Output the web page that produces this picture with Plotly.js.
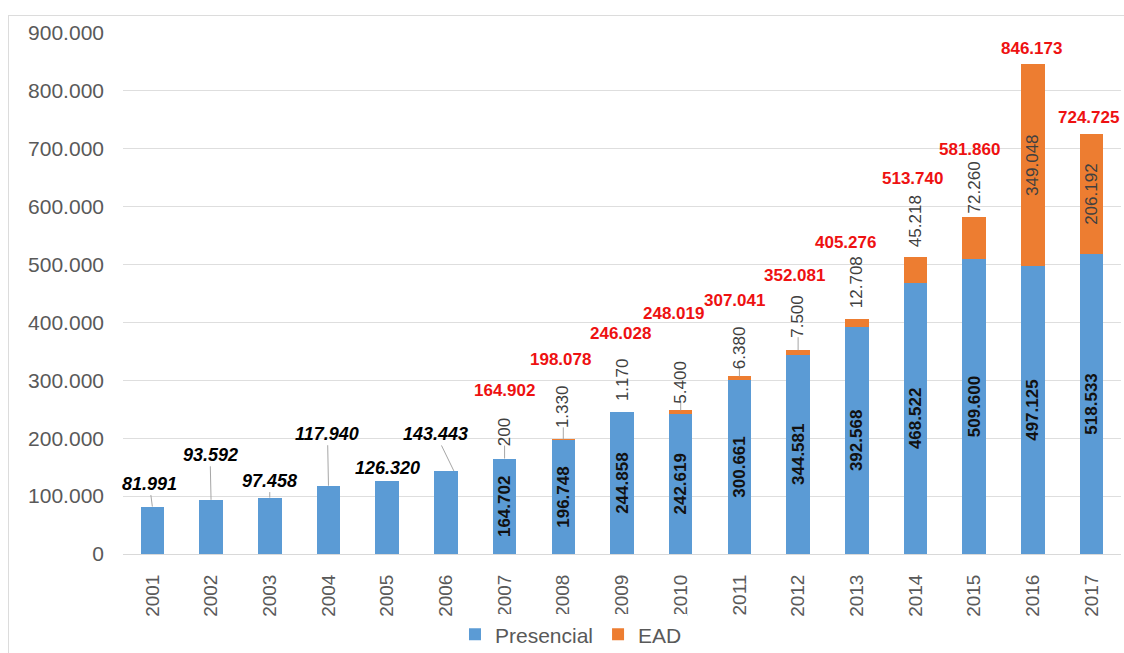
<!DOCTYPE html>
<html>
<head>
<meta charset="utf-8">
<script src="https://cdn.plot.ly/plotly-3.0.1.min.js"></script>
<style>
  html, body { margin: 0; padding: 0; background: #ffffff; }
  #chart { width: 1124px; height: 653px; position: relative; }
  #frame { position: absolute; left: 8px; top: 15px; width: 1140px; height: 660px;
           border-left: 1px solid #dcdcdc; border-top: 1px solid #dcdcdc; pointer-events: none; z-index: 10; }
</style>
</head>
<body>
<div id="frame"></div>
<div id="chart"></div>
<script>
// ---- data ----
const years = ['2001','2002','2003','2004','2005','2006','2007','2008','2009','2010','2011','2012','2013','2014','2015','2016','2017'];
const presencial = [81991, 93592, 97458, 117940, 126320, 143443, 164702, 196748, 244858, 242619, 300661, 344581, 392568, 468522, 509600, 497125, 518533];
const ead = [null, null, null, null, null, null, 200, 1330, 1170, 5400, 6380, 7500, 12708, 45218, 72260, 349048, 206192];
const totals = [81991, 93592, 97458, 117940, 126320, 143443, 164902, 198078, 246028, 248019, 307041, 352081, 405276, 513740, 581860, 846173, 724725];
const yTicks = [0, 100000, 200000, 300000, 400000, 500000, 600000, 700000, 800000, 900000];

// ---- label placement (pixels, style only) ----
// 2001-2006 total labels: [ax, ay, xshift, leader]
const earlyPlace = [[-3,-23,0,true],[-1,-45,0,true],[0,-17,0,true],[-1,-52,0,true],[2,-13,0,false],[-18,-37,8,true]];
// EAD labels above bars (2007-2015): gap in px, leader line?
const eadGap = {'2007':13,'2008':12,'2009':11,'2010':8,'2011':8,'2012':13,'2013':12,'2014':10,'2015':5};
const eadLeader = {'2007':true,'2008':true,'2010':true,'2011':true,'2012':true};
// red total labels (2007-2017): [xshift, yshift]
const redPlace = {'2007':[0,68],'2008':[-3,80],'2009':[-2,78],'2010':[-7,97],'2011':[-5,76],'2012':[-4,75],
                  '2013':[-11,77],'2014':[-3,78],'2015':[-5,68],'2016':[-1,16],'2017':[-3,17]};

const fmt = v => String(v).replace(/\B(?=(\d{3})+(?!\d))/g, '.');
const ARIAL = 'Liberation Sans, Arial, sans-serif';

// pick a narrow face if one is installed, otherwise Arial-metric at a smaller size
function hasFont(name) {
  const c = document.createElement('canvas').getContext('2d');
  c.font = '40px monospace';
  const a = c.measureText('164.702 Presencial').width;
  c.font = '40px "' + name + '", monospace';
  const b = c.measureText('164.702 Presencial').width;
  return Math.abs(a - b) > 0.5;
}
let NARROW = ARIAL, inSize = 17, eadSize = 17;
if (hasFont('Liberation Sans Narrow')) { NARROW = '"Liberation Sans Narrow", ' + ARIAL; inSize = 20; eadSize = 20; }
else if (hasFont('Arial Narrow')) { NARROW = '"Arial Narrow", ' + ARIAL; inSize = 20; eadSize = 20; }

const presText = presencial.map((v, i) => ead[i] === null ? '' : fmt(v));
const eadText = ead.map(v => (v !== null && v > 100000) ? fmt(v) : '');

const traces = [
  {
    type: 'bar', name: 'Presencial', x: years, y: presencial,
    marker: { color: '#5B9BD5' },
    text: presText, textposition: 'inside', insidetextanchor: 'middle', textangle: -90,
    constraintext: 'none',
    textfont: { family: NARROW, size: inSize, color: '#111111', weight: 'bold' },
    hoverinfo: 'skip'
  },
  {
    type: 'bar', name: 'EAD', x: years, y: ead,
    marker: { color: '#ED7D31' },
    text: eadText, textposition: 'inside', insidetextanchor: 'middle', textangle: -90,
    constraintext: 'none',
    textfont: { family: NARROW, size: eadSize, color: '#404040' },
    hoverinfo: 'skip'
  }
];

const annotations = [];
const shapes = [];

years.forEach((yr, i) => {
  if (ead[i] === null) {
    const p = earlyPlace[i];
    annotations.push({
      x: i, y: totals[i], xref: 'x', yref: 'y', text: '<b><i>' + fmt(totals[i]) + '</i></b>',
      showarrow: p[3], arrowhead: 0, arrowwidth: 1, arrowcolor: '#a6a6a6',
      ax: p[0], ay: p[1], xshift: p[2],
      yshift: p[3] ? 0 : -p[1],
      font: { family: ARIAL, size: 18, color: '#000000' }
    });
  } else {
    const rp = redPlace[yr];
    annotations.push({
      x: i, y: totals[i], xref: 'x', yref: 'y', text: '<b>' + fmt(totals[i]) + '</b>',
      showarrow: false, xanchor: 'center', yanchor: 'middle', xshift: rp[0], yshift: rp[1],
      font: { family: ARIAL, size: 17, color: '#ee1111' }
    });
    if (eadText[i] === '') {
      const g = eadGap[yr];
      annotations.push({
        x: i, y: totals[i], xref: 'x', yref: 'y', text: fmt(ead[i]),
        showarrow: false, textangle: -90, xanchor: 'center', yanchor: 'bottom', yshift: g - 2,
        borderpad: 0,
        font: { family: NARROW, size: eadSize, color: '#404040' }
      });
      if (eadLeader[yr]) {
        shapes.push({
          type: 'line', xref: 'x', yref: 'y', x0: i, x1: i,
          ysizemode: 'pixel', yanchor: totals[i], y0: 0, y1: g,
          line: { color: '#a6a6a6', width: 1 }
        });
      }
    }
  }
});

const layout = {
  width: 1124, height: 653,
  margin: { l: 123, r: 3, t: 33, b: 99, pad: 0 },
  paper_bgcolor: '#ffffff', plot_bgcolor: '#ffffff',
  barmode: 'stack', bargap: 0.6,
  separators: ',.',
  showlegend: true,
  legend: { orientation: 'h', traceorder: 'normal', xref: 'container', yref: 'container',
            x: 0.508, xanchor: 'center', y: 0.028, yanchor: 'middle',
            font: { family: ARIAL, size: 21, color: '#595959' }, itemwidth: 30, tracegroupgap: 0 },
  xaxis: {
    type: 'category', range: [-0.5, years.length - 0.5], tickangle: -90, showgrid: false, zeroline: false,
    showline: true, linecolor: '#d9d9d9', linewidth: 1, ticks: '', automargin: false,
    tickfont: { family: ARIAL, size: 19, color: '#595959' },
    ticklabelstandoff: 12
  },
  yaxis: {
    range: [0, 900000], tickvals: yTicks, ticktext: yTicks.map(fmt),
    showgrid: true, gridcolor: '#dedede', gridwidth: 1, zeroline: false, showline: false, ticks: '',
    automargin: false,
    tickfont: { family: ARIAL, size: 21, color: '#595959' },
    ticklabelstandoff: 18
  },
  annotations: annotations,
  shapes: shapes
};

Plotly.newPlot('chart', traces, layout, { displayModeBar: false, staticPlot: true });
</script>
</body>
</html>
